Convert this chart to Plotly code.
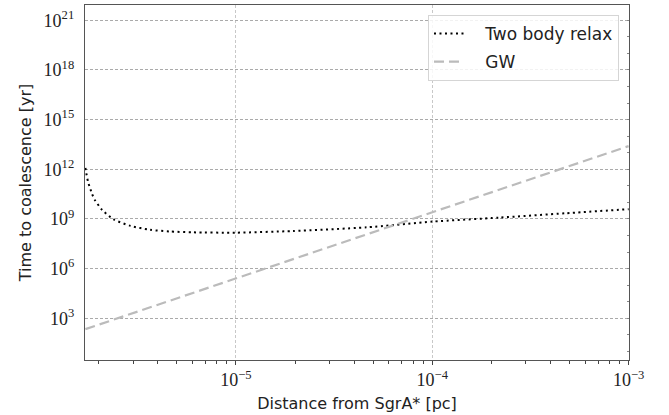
import plotly.graph_objects as go

# ---- data ----
relax_a = [1.71e-6, 1.72e-6, 1.765e-6, 1.845e-6, 1.91e-6, 2.08e-6, 2.38e-6,
           2.90e-6, 3.65e-6, 4.6e-6, 6.05e-6, 1.0e-5, 1.95e-5, 4.62e-5,
           1.0e-4, 2.19e-4, 4.79e-4, 1.0e-3]
relax_t = [1.2e12, 7.9e11, 1.7e11, 3.5e10, 1.4e10, 3.5e9, 9.5e8,
           3.8e8, 2.2e8, 1.75e8, 1.55e8, 1.48e8, 1.86e8, 3.1e8,
           6.9e8, 1.2e9, 2.2e9, 3.9e9]

gw_a = [1.71e-6, 1.0e-5, 1.0e-4, 1.0e-3]
gw_t = [2.2e2, 2.5e5, 2.5e9, 2.5e13]

series_names = ["Two body relax", "GW"]

x_tickvals = [1e-5, 1e-4, 1e-3]
x_ticktext = ["10<sup>−5</sup>", "10<sup>−4</sup>", "10<sup>−3</sup>"]
y_tickvals = [1e3, 1e6, 1e9, 1e12, 1e15, 1e18, 1e21]
y_ticktext = ["10<sup>3</sup>", "10<sup>6</sup>", "10<sup>9</sup>", "10<sup>12</sup>",
              "10<sup>15</sup>", "10<sup>18</sup>", "10<sup>21</sup>"]
x_minor = [m * 10.0 ** e for e in (-6, -5, -4) for m in range(2, 10)]
y_minor_right = [10.0 ** e for e in range(1, 22)]

pad = "\u00a0\u00a0\u00a0"

fig = go.Figure()
fig.add_trace(go.Scatter(
    x=relax_a, y=relax_t, mode="lines", name=pad + series_names[0], legendgroup="a",
    line=dict(color="black", width=2, dash="2px,3.5px", shape="spline", smoothing=0.6),
))
fig.add_trace(go.Scatter(
    x=gw_a, y=gw_t, mode="lines", name=pad + series_names[1], legendgroup="b",
    line=dict(color="#bbbbbb", width=2.2, dash="10px,5px"),
))
# invisible helper so the right-hand (inner tick) axis is drawn
fig.add_trace(go.Scatter(
    x=gw_a, y=gw_t, mode="lines", yaxis="y2", showlegend=False, hoverinfo="skip",
    line=dict(color="rgba(0,0,0,0)", width=0),
))

tickfont = dict(family="Liberation Serif", size=18, color="#222222")
titlefont = dict(family="DejaVu Sans", size=16, color="#222222")

fig.update_layout(
    width=669, height=415,
    margin=dict(l=85, r=40, t=5, b=55),
    paper_bgcolor="white", plot_bgcolor="white",
    showlegend=True,
    legend=dict(
        x=0.9816, xanchor="right", y=0.972, yanchor="top",
        bgcolor="rgba(255,255,255,0.85)", bordercolor="#d5d5d5", borderwidth=1,
        font=dict(family="DejaVu Sans", size=17, color="#222222"),
        itemwidth=30, tracegroupgap=3,
    ),
    xaxis=dict(
        type="log", range=[-5.769, -2.998],
        tickvals=x_tickvals, ticktext=x_ticktext, tickfont=tickfont,
        ticks="outside", ticklen=3.5, tickcolor="#444444",
        minor=dict(tickvals=x_minor, ticks="outside", ticklen=3, tickcolor="#444444", showgrid=False),
        showgrid=True, gridcolor="#c8c8c8", gridwidth=0.8, griddash="3px,2px",
        showline=True, linecolor="#555555", linewidth=1.4, mirror=True,
        zeroline=False,
        title=dict(text="Distance from SgrA* [pc]", font=titlefont, standoff=8),
    ),
    yaxis=dict(
        type="log", range=[0.48, 21.92],
        tickvals=y_tickvals, ticktext=y_ticktext, tickfont=tickfont,
        ticks="", ticklabelstandoff=6,
        showgrid=True, gridcolor="#aaaaaa", gridwidth=0.8, griddash="3px,2px",
        showline=True, linecolor="#555555", linewidth=1.4, mirror=True,
        zeroline=False,
        title=dict(text="Time to coalescence [yr]", font=titlefont, standoff=8),
    ),
    yaxis2=dict(
        type="log", range=[0.48, 21.92], overlaying="y", side="right",
        tickvals=y_minor_right, showticklabels=False,
        ticks="inside", ticklen=2.5, tickcolor="#888888", tickwidth=1,
        showgrid=False, zeroline=False, showline=False,
    ),
)

fig.write_html("out.html")
